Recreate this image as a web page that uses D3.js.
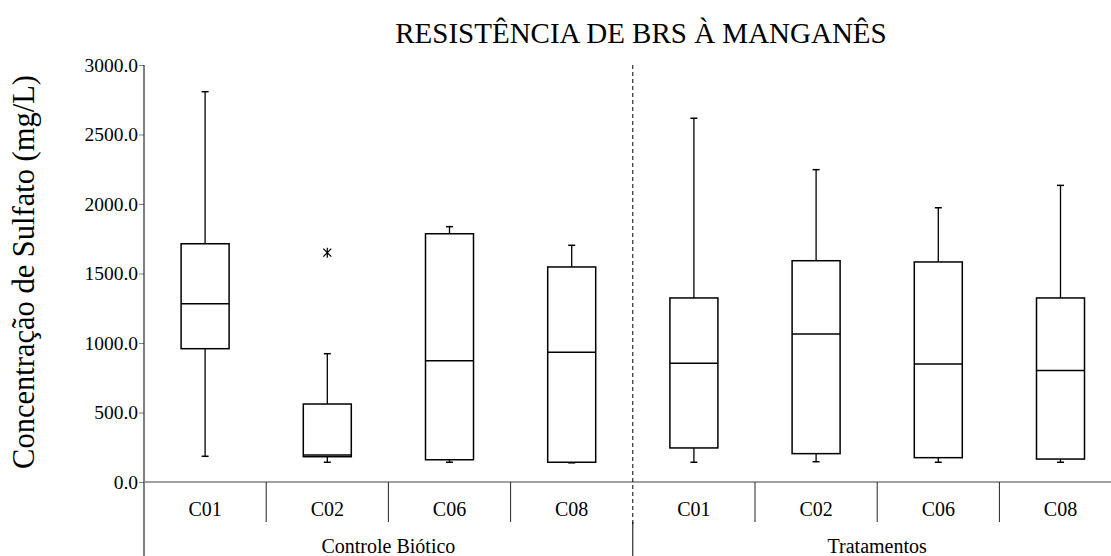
<!DOCTYPE html>
<html>
<head>
<meta charset="utf-8">
<script src="https://cdn.jsdelivr.net/npm/d3@7"></script>
<style>
  body { margin: 0; background: #fff; }
  svg text { font-family: "Liberation Serif", "Times New Roman", serif !important; fill: #000; }
</style>
</head>
<body>
<script>
// data
var groups = ["Controle Biótico", "Tratamentos"];
var cats = ["C01", "C02", "C06", "C08"];
var whiskerLow  = [185, 142, 142, 138, 142, 146, 142, 142];
var q1          = [959, 182, 160, 142, 245, 204, 175, 165];
var median      = [1283, 194, 873, 933, 854, 1065, 849, 803];
var q3          = [1714, 561, 1786, 1547, 1324, 1592, 1583, 1324];
var whiskerHigh = [2808, 923, 1837, 1703, 2617, 2247, 1973, 2134];
var outliers = [{i: 1, v: 1650}];
var yTicks = [0, 500, 1000, 1500, 2000, 2500, 3000];

var W = 1111, H = 556;
var plotLeft = 144, band = 122.2, plotTop = 65, plotBottom = 482;

var keys = [];
groups.forEach(function(g, gi) { cats.forEach(function(c) { keys.push(gi + "-" + c); }); });

var svg = d3.select("body").append("svg")
    .attr("width", W)
    .attr("height", H)
    .attr("font-family", "'Liberation Serif', serif");

var x = d3.scaleBand()
    .domain(keys)
    .range([plotLeft, plotLeft + band * keys.length])
    .padding(0);

var y = d3.scaleLinear()
    .domain([0, 3000])
    .range([plotBottom, plotTop]);

// title
svg.append("text")
    .attr("x", 641)
    .attr("y", 43)
    .attr("text-anchor", "middle")
    .style("font-size", "29px")
    .text("RESISTÊNCIA DE BRS À MANGANÊS");

// y axis
var yAxis = svg.append("g")
    .attr("transform", "translate(" + plotLeft + ",0)")
    .call(d3.axisLeft(y).tickValues(yTicks).tickSize(5).tickPadding(1)
        .tickFormat(function(d) { return d3.format(".1f")(d); }));
yAxis.attr("font-family", "'Liberation Serif', serif");
yAxis.select(".domain").remove();
yAxis.selectAll(".tick line").attr("stroke", "#808080");
yAxis.selectAll(".tick text")
    .style("font-size", "19.5px")
    .attr("fill", "#000");

// y axis title
svg.append("text")
    .attr("transform", "translate(34," + 272 + ") rotate(-90)")
    .attr("text-anchor", "middle")
    .style("font-size", "30.5px")
    .text("Concentração de Sulfato (mg/L)");

// axis lines
svg.append("line")
    .attr("x1", plotLeft).attr("x2", plotLeft)
    .attr("y1", plotTop).attr("y2", H)
    .attr("stroke", "#000").attr("stroke-width", 1);

svg.append("line")
    .attr("x1", plotLeft).attr("x2", W)
    .attr("y1", plotBottom).attr("y2", plotBottom)
    .attr("stroke", "#808080").attr("stroke-width", 1.5);

// category dividers
keys.forEach(function(k, i) {
    if (i == 0 || i == 4) return;
    svg.append("line")
        .attr("x1", x(k)).attr("x2", x(k))
        .attr("y1", plotBottom).attr("y2", 522)
        .attr("stroke", "#222").attr("stroke-width", 1);
});

// group divider
var gx = x("1-C01");
svg.append("line")
    .attr("x1", gx).attr("x2", gx)
    .attr("y1", plotTop).attr("y2", 524)
    .attr("stroke", "#000").attr("stroke-width", 1)
    .attr("stroke-dasharray", "4,3");
svg.append("line")
    .attr("x1", gx).attr("x2", gx)
    .attr("y1", 522).attr("y2", H)
    .attr("stroke", "#000").attr("stroke-width", 1);

// category labels
svg.selectAll(".cat")
    .data(keys)
    .enter().append("text")
    .attr("class", "cat")
    .attr("x", function(d) { return x(d) + x.bandwidth() / 2; })
    .attr("y", 516)
    .attr("text-anchor", "middle")
    .style("font-size", "20px")
    .text(function(d) { return d.split("-")[1]; });

// group labels
svg.selectAll(".grp")
    .data(groups)
    .enter().append("text")
    .attr("class", "grp")
    .attr("x", function(d, i) { return plotLeft + band * (i * 4 + 2); })
    .attr("y", 553)
    .attr("text-anchor", "middle")
    .style("font-size", "20px")
    .text(function(d) { return d; });

// boxes
var boxW = 48, capW = 7;
var g = svg.selectAll(".box")
    .data(keys)
    .enter().append("g")
    .attr("class", "box")
    .attr("transform", function(d) { return "translate(" + (x(d) + x.bandwidth() / 2) + ",0)"; });

g.append("line")
    .attr("x1", 0).attr("x2", 0)
    .attr("y1", function(d, i) { return y(whiskerHigh[i]); })
    .attr("y2", function(d, i) { return y(q3[i]); })
    .attr("stroke", "#000").attr("stroke-width", 1.3);
g.append("line")
    .attr("x1", 0).attr("x2", 0)
    .attr("y1", function(d, i) { return y(q1[i]); })
    .attr("y2", function(d, i) { return y(whiskerLow[i]); })
    .attr("stroke", "#000").attr("stroke-width", 1.3);
g.append("line")
    .attr("x1", -capW / 2).attr("x2", capW / 2)
    .attr("y1", function(d, i) { return y(whiskerHigh[i]); })
    .attr("y2", function(d, i) { return y(whiskerHigh[i]); })
    .attr("stroke", "#000").attr("stroke-width", 1.5);
g.append("line")
    .attr("x1", -capW / 2).attr("x2", capW / 2)
    .attr("y1", function(d, i) { return y(whiskerLow[i]); })
    .attr("y2", function(d, i) { return y(whiskerLow[i]); })
    .attr("stroke", "#000").attr("stroke-width", 1.5);

g.append("rect")
    .attr("x", -boxW / 2)
    .attr("width", boxW)
    .attr("y", function(d, i) { return y(q3[i]); })
    .attr("height", function(d, i) { return y(q1[i]) - y(q3[i]); })
    .attr("fill", "#fff")
    .attr("stroke", "#000").attr("stroke-width", 1.5);

g.append("line")
    .attr("x1", -boxW / 2).attr("x2", boxW / 2)
    .attr("y1", function(d, i) { return y(median[i]); })
    .attr("y2", function(d, i) { return y(median[i]); })
    .attr("stroke", "#000").attr("stroke-width", 1.5);

// outliers (asterisk)
svg.selectAll(".out")
    .data(outliers)
    .enter().append("path")
    .attr("class", "out")
    .attr("transform", function(d) { return "translate(" + (x(keys[d.i]) + x.bandwidth() / 2) + "," + y(d.v) + ")"; })
    .attr("d", "M-4,-4L4,4M-4,4L4,-4M0,-5L0,5")
    .attr("stroke", "#000").attr("stroke-width", 1.2)
    .attr("fill", "none");
</script>
</body>
</html>
